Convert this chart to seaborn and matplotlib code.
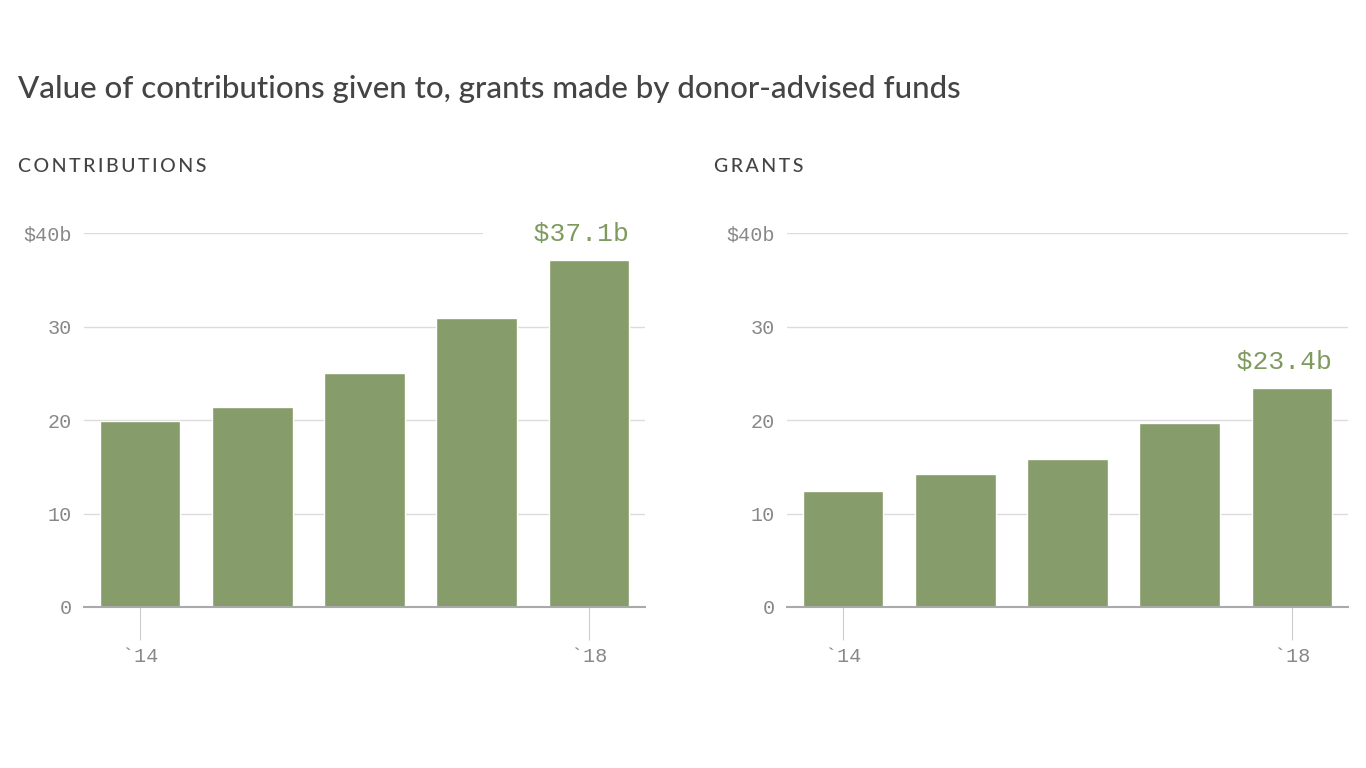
import matplotlib
matplotlib.use("Agg")
import matplotlib.pyplot as plt
import seaborn as sns
import pandas as pd

# data (billions of dollars)
years = ["2014", "2015", "2016", "2017", "2018"]
contributions = [19.9, 21.4, 25.0, 30.9, 37.1]
grants = [12.4, 14.2, 15.8, 19.7, 23.4]
y_ticks = [0, 10, 20, 30, 40]
y_tick_labels = ["0", "10", "20", "30", "$40b"]
x_tick_labels = ["`14", "", "", "", "`18"]

bar_color = "#879c6b"
label_color = "#7f9a5f"
grid_color = "#dcdcdc"
tick_color = "#888888"
mono = "Liberation Mono"

sns.set_theme(style="white")
plt.rcParams["font.family"] = ["Lato", "DejaVu Sans"]

fig = plt.figure(figsize=(13.66, 7.68), dpi=100)

fig.text(18 / 1366, 1 - 89 / 768, "Value of contributions given to, grants made by donor-advised funds",
         fontsize=22.5, color="#444444", va="center", ha="left", fontweight="medium")

panels = [
    ("CONTRIBUTIONS", contributions, 18, 84),
    ("GRANTS", grants, 714, 787),
]

for title, values, title_x, ax_left in panels:
    df = pd.DataFrame({"year": years, "value": values})
    ax = fig.add_axes([ax_left / 1366, (768 - 607) / 768, 561 / 1366, 374 / 768])
    sns.barplot(data=df, x="year", y="value", color=bar_color, width=0.72,
                saturation=1, ax=ax, zorder=2)
    ax.set_xlim(-0.5, 4.5)
    ax.set_ylim(0, 40)
    ax.set_yticks(y_ticks)
    ax.set_yticklabels(y_tick_labels)
    ax.set_xticks(range(len(years)))
    ax.set_xticklabels(x_tick_labels)
    ax.set_xlabel("")
    ax.set_ylabel("")
    for s in ["top", "right", "left"]:
        ax.spines[s].set_visible(False)
    ax.spines["bottom"].set_color("#aaaaaa")
    ax.spines["bottom"].set_linewidth(1.5)
    ax.spines["bottom"].set_zorder(3)
    ax.yaxis.grid(True, color=grid_color, linewidth=1, zorder=0)
    ax.set_axisbelow(True)
    ax.tick_params(axis="y", left=False, length=0, pad=9, labelsize=14.5, labelcolor=tick_color)
    ax.tick_params(axis="x", bottom=True, length=24, width=0.8, color="#cccccc", pad=5,
                   labelsize=14.5, labelcolor=tick_color)
    for lab in ax.get_yticklabels() + ax.get_xticklabels():
        lab.set_fontfamily(mono)
    for i, tick in enumerate(ax.xaxis.get_major_ticks()):
        # only keep tick marks under the first and last bar
        if i not in (0, len(years) - 1):
            tick.tick1line.set_visible(False)

    # end-value label, padded with spaces so its white box cuts the top gridline
    last = values[-1]
    ax.text(4.5, last + 2.75, f"   ${last}b ", ha="right", va="center",
            fontsize=19, color=label_color, fontfamily=mono, zorder=4,
            bbox=dict(facecolor="white", edgecolor="none", pad=2))

    spaced = "\u2009".join(title)
    fig.text(title_x / 1366, 1 - 167 / 768, spaced, fontsize=14, color="#444444",
             ha="left", va="center", fontweight="medium")

fig.savefig("out.png", dpi=100, facecolor="white")
